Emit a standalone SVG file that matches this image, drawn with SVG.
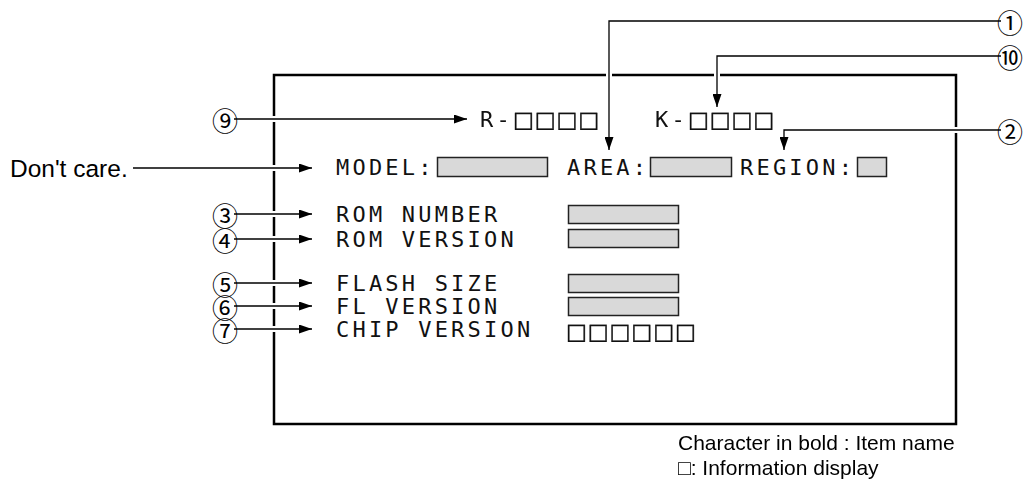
<svg xmlns="http://www.w3.org/2000/svg" width="1024" height="480" viewBox="0 0 1024 480">
<style>
.mono{font-family:"DejaVu Sans Mono",monospace;font-size:22px;letter-spacing:3.2px;fill:#111}
.sq{font-family:"DejaVu Sans",sans-serif;letter-spacing:1px;stroke:#111;stroke-width:0.4}
.gray{filter:url(#flat)}
.num{font-family:"Noto Sans CJK JP",sans-serif;font-size:26px;text-anchor:middle;dominant-baseline:central;fill:#000}
.lbl{font-family:"Liberation Sans",Arial,"DejaVu Sans",sans-serif;fill:#000}
.wire{fill:none;stroke:#000;stroke-width:1.3}
.field{fill:#d9d9d9;stroke:#222;stroke-width:1.5}
.frame{fill:none;stroke:#000;stroke-width:2.5}
.gap{fill:#fff}
</style>
<defs>
<filter id="flat" x="0" y="0" width="1" height="1"><feOffset dx="0" dy="0"/></filter>
<marker id="ah" markerUnits="userSpaceOnUse" markerWidth="13" markerHeight="9" refX="13" refY="4.5" orient="auto">
<path d="M0,0 L13,4.5 L0,9 Z" fill="#000"/>
</marker>
</defs>
<rect width="1024" height="480" fill="#fff"/>
<g id="screen">
<rect class="frame" x="274" y="75" width="682" height="349"/>
<rect class="gap" x="271" y="116" width="6" height="6"/>
<rect class="gap" x="271" y="165" width="6" height="6"/>
<rect class="gap" x="271" y="211" width="6" height="6"/>
<rect class="gap" x="271" y="236" width="6" height="6"/>
<rect class="gap" x="271" y="280" width="6" height="6"/>
<rect class="gap" x="271" y="303" width="6" height="6"/>
<rect class="gap" x="271" y="326" width="6" height="6"/>
<rect class="gap" x="606" y="72" width="6" height="6"/>
<rect class="gap" x="714" y="72" width="6" height="6"/>
<rect class="gap" x="953" y="127" width="6" height="6"/>
</g>
<g id="row-rk" class="gray">
<text class="mono" x="480" y="127">R-<tspan class="sq">□□□□</tspan></text>
<text class="mono" x="655" y="127">K-<tspan class="sq">□□□□</tspan></text>
</g>
<g id="row-model">
<text class="mono" x="336" y="175">MODEL:</text>
<rect class="field" x="437.5" y="157.5" width="110" height="19"/>
<text class="mono" x="567" y="175">AREA:</text>
<rect class="field" x="650.5" y="157.5" width="81" height="19"/>
<text class="mono" x="740" y="175">REGION:</text>
<rect class="field" x="857.5" y="157.5" width="29" height="19"/>
</g>
<g id="rom-number">
<text class="mono" x="336" y="222">ROM NUMBER</text>
<rect class="field" x="568.5" y="205.5" width="110" height="18"/>
</g>
<g id="rom-version">
<text class="mono" x="336" y="247">ROM VERSION</text>
<rect class="field" x="568.5" y="229.5" width="110" height="18"/>
</g>
<g id="flash-size">
<text class="mono" x="336" y="291">FLASH SIZE</text>
<rect class="field" x="568.5" y="274.5" width="110" height="18"/>
</g>
<g id="fl-version">
<text class="mono" x="336" y="314">FL VERSION</text>
<rect class="field" x="568.5" y="297.5" width="110" height="18"/>
</g>
<g id="chip-version">
<text class="mono" x="336" y="337">CHIP VERSION</text>
<g class="gray"><text class="mono sq" x="566" y="339">□□□□□□</text></g>
</g>
<g id="callouts">
<text class="num" x="1010" y="21">①</text>
<text class="num" x="1010" y="56">⑩</text>
<text class="num" x="1010" y="130">②</text>
<text class="num" x="225" y="119">⑨</text>
<text class="num" x="225" y="214">③</text>
<text class="num" x="225" y="239">④</text>
<text class="num" x="225" y="283">⑤</text>
<text class="num" x="225" y="306">⑥</text>
<text class="num" x="225" y="329">⑦</text>
<text class="lbl" x="10" y="177" font-size="24.5">Don't care.</text>
</g>
<g id="connectors">
<path class="wire" marker-end="url(#ah)" d="M1001,21 H609 V150"/>
<path class="wire" marker-end="url(#ah)" d="M1001,56 H717 V107"/>
<path class="wire" marker-end="url(#ah)" d="M1001,130 H784 V150"/>
<path class="wire" marker-end="url(#ah)" d="M234,119 H467"/>
<path class="wire" marker-end="url(#ah)" d="M133,168 H312"/>
<path class="wire" marker-end="url(#ah)" d="M234,214 H312"/>
<path class="wire" marker-end="url(#ah)" d="M234,239 H312"/>
<path class="wire" marker-end="url(#ah)" d="M234,283 H312"/>
<path class="wire" marker-end="url(#ah)" d="M234,306 H312"/>
<path class="wire" marker-end="url(#ah)" d="M234,329 H312"/>
</g>
<g id="legend" class="gray">
<text class="lbl" x="678" y="450" font-size="21">Character in bold : Item name</text>
<text class="lbl" x="678" y="475" font-size="21">□: Information display</text>
</g>
</svg>
